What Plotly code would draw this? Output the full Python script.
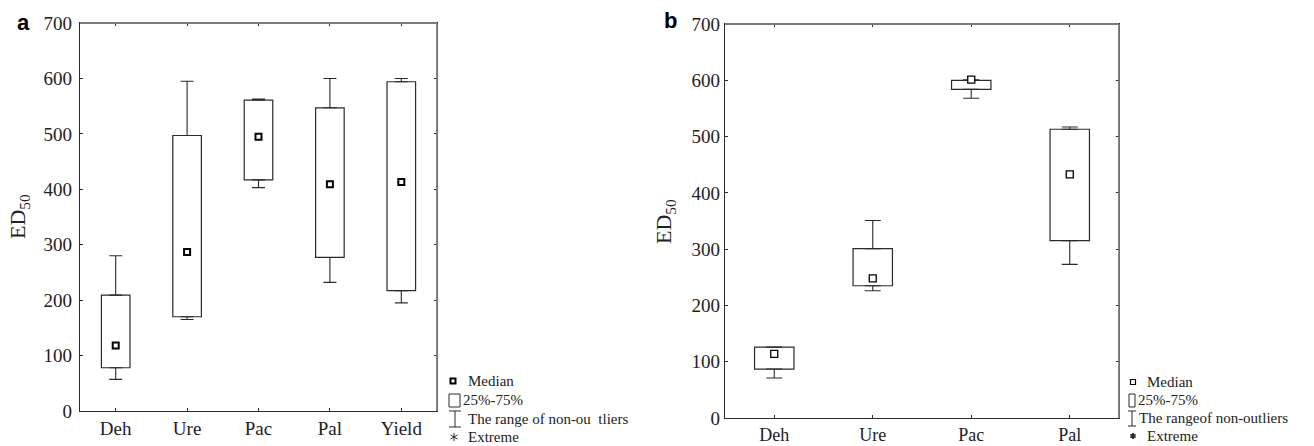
import plotly.graph_objects as go

W, H = 1314, 446

# ---- data (panel a) ----
cats_a = ["Deh", "Ure", "Pac", "Pal", "Yield"]
low_a = [57, 165, 403, 232, 195]
q1_a = [78, 170, 417, 277, 217]
med_a = [118, 287, 495, 409, 413]
q3_a = [209, 497, 561, 547, 594]
high_a = [280, 595, 563, 600, 600]

# ---- data (panel b) ----
cats_b = ["Deh", "Ure", "Pac", "Pal"]
low_b = [71, 226, 568, 273]
q1_b = [87, 235, 584, 315]
med_b = [114, 248, 601, 433]
q3_b = [126, 301, 600, 513]
high_b = [126, 351, 601, 517]

y_ticks = [0, 100, 200, 300, 400, 500, 600, 700]

SERIF = "Liberation Serif"
LINE = "#2a2a2a"


def px_x(p):
    return p / W


def px_y(p):
    return 1 - p / H


fig = go.Figure()


def add_panel(cats, low, q1, med, q3, high, xa, ya, capw, msym, msize, mlw):
    fig.add_trace(go.Bar(
        x=cats, base=q1, y=[b - a for a, b in zip(q1, q3)], width=0.4,
        marker=dict(color="white", line=dict(color=LINE, width=1.2)),
        xaxis=xa, yaxis=ya, showlegend=False, hoverinfo="skip"))
    fig.add_trace(go.Scatter(
        x=cats, y=q3, mode="markers", marker=dict(size=1, opacity=0),
        error_y=dict(type="data", symmetric=False,
                     array=[h - t for t, h in zip(q3, high)],
                     arrayminus=[0] * len(cats),
                     color=LINE, thickness=1.1, width=capw),
        xaxis=xa, yaxis=ya, showlegend=False, hoverinfo="skip"))
    fig.add_trace(go.Scatter(
        x=cats, y=q1, mode="markers", marker=dict(size=1, opacity=0),
        error_y=dict(type="data", symmetric=False,
                     array=[0] * len(cats),
                     arrayminus=[a - l for l, a in zip(low, q1)],
                     color=LINE, thickness=1.1, width=capw),
        xaxis=xa, yaxis=ya, showlegend=False, hoverinfo="skip"))
    fig.add_trace(go.Scatter(
        x=cats, y=med, mode="markers",
        marker=dict(symbol=msym, size=msize, color="white",
                    line=dict(color="black", width=mlw)),
        xaxis=xa, yaxis=ya, showlegend=False))


add_panel(cats_a, low_a, q1_a, med_a, q3_a, high_a, "x", "y", 6.5, "square", 6, 2)
add_panel(cats_b, low_b, q1_b, med_b, q3_b, high_b, "x2", "y2", 8, "square", 7, 1.3)

axis_common = dict(showline=True, linecolor=LINE, linewidth=1.2, mirror="ticks",
                   ticks="inside", ticklen=3, tickcolor=LINE, tickwidth=1,
                   showgrid=False, zeroline=False, automargin=False)
yfont = dict(family=SERIF, size=19, color="#222")
xfont = dict(family=SERIF, size=19, color="#222")

fig.update_layout(
    width=W, height=H, margin=dict(l=0, r=0, t=0, b=0, pad=0, autoexpand=False),
    paper_bgcolor="white", plot_bgcolor="white", showlegend=False,
    xaxis=dict(domain=[px_x(80), px_x(437)], anchor="y", type="category",
               range=[-0.5, 4.5], ticklabelstandoff=0, tickfont=xfont, **axis_common),
    yaxis=dict(domain=[px_y(411), px_y(23)], anchor="x", range=[0, 700],
               tickvals=y_ticks, ticklabelstandoff=3, tickfont=yfont, **axis_common),
    xaxis2=dict(domain=[px_x(725), px_x(1119)], anchor="y2", type="category",
                range=[-0.5, 3.5], ticklabelstandoff=0, tickfont=dict(xfont, size=18),
                **axis_common),
    yaxis2=dict(domain=[px_y(418), px_y(24)], anchor="x2", range=[0, 700],
                tickvals=y_ticks, ticklabelstandoff=0, tickfont=yfont, **axis_common),
)

ann = []
# panel letters
ann.append(dict(text="<b>a</b>", x=px_x(23), y=px_y(22), xref="paper", yref="paper",
                xanchor="center", yanchor="middle",
                showarrow=False, font=dict(family="Liberation Sans", size=22, color="black")))
ann.append(dict(text="<b>b</b>", x=px_x(670), y=px_y(20), xref="paper", yref="paper",
                xanchor="center", yanchor="middle",
                showarrow=False, font=dict(family="Liberation Sans", size=22, color="black")))
# y titles
ann.append(dict(text="ED<sub>50</sub>", x=px_x(19), y=px_y(217), xref="paper", yref="paper",
                xanchor="center", yanchor="middle",
                showarrow=False, textangle=-90, font=dict(family=SERIF, size=22, color="#222")))
ann.append(dict(text="ED<sub>50</sub>", x=px_x(665), y=px_y(222), xref="paper", yref="paper",
                xanchor="center", yanchor="middle",
                showarrow=False, textangle=-90, font=dict(family=SERIF, size=22, color="#222")))

LEG_FONT = dict(family=SERIF, size=15, color="#222")


def leg_text(t, x, y):
    ann.append(dict(text=t, x=px_x(x), y=px_y(y), xref="paper", yref="paper",
                    xanchor="left", yanchor="middle", showarrow=False, font=LEG_FONT))


# legend a
leg_text("Median", 466, 381)
leg_text("25%-75%", 461, 400)
leg_text("The range of non-ou\u00a0\u00a0tliers", 466, 419)
leg_text("Extreme", 466, 437)
# legend b
leg_text("Median", 1145, 382)
leg_text("25%-75%", 1136, 400)
leg_text("The rangeof non-outliers", 1137, 418)
leg_text("Extreme", 1145, 436)

shapes = []

# lighter top/right frame lines, as in the reference
for xd, yd in (("x domain", "y domain"), ("x2 domain", "y2 domain")):
    shapes.append(dict(type="line", xref=xd, yref=yd, x0=0, x1=1, y0=1, y1=1,
                       line=dict(color="#7a7a7a", width=1.8)))
    shapes.append(dict(type="line", xref=xd, yref=yd, x0=1, x1=1, y0=0, y1=1,
                       line=dict(color="#7a7a7a", width=1.8)))


def asterisk(cx, cy, r, width):
    # six-spoke asterisk glyph for the legend
    pts = [(0, -r), (0, r), (-0.87 * r, -0.5 * r), (0.87 * r, 0.5 * r),
           (-0.87 * r, 0.5 * r), (0.87 * r, -0.5 * r)]
    path = ""
    for i in range(0, 6, 2):
        (x0, y0), (x1, y1) = pts[i], pts[i + 1]
        path += f"M {px_x(cx + x0)} {px_y(cy + y0)} L {px_x(cx + x1)} {px_y(cy + y1)} "
    shapes.append(dict(type="path", xref="paper", yref="paper", path=path,
                       line=dict(color=LINE, width=width)))


# legend a glyphs
shapes.append(dict(type="rect", xref="paper", yref="paper",
                   x0=px_x(450.5), x1=px_x(455.5), y0=px_y(383.5), y1=px_y(378.5),
                   line=dict(color="black", width=2), fillcolor="white"))
shapes.append(dict(type="rect", xref="paper", yref="paper",
                   x0=px_x(449), x1=px_x(460), y0=px_y(407), y1=px_y(394),
                   line=dict(color=LINE, width=1), fillcolor="white"))
shapes.append(dict(type="path", xref="paper", yref="paper",
                   path=f"M {px_x(449)} {px_y(411)} L {px_x(461)} {px_y(411)} "
                        f"M {px_x(455)} {px_y(411)} L {px_x(455)} {px_y(427)} "
                        f"M {px_x(449)} {px_y(427)} L {px_x(461)} {px_y(427)}",
                   line=dict(color=LINE, width=1)))
asterisk(454, 437, 4, 1)
# legend b glyphs
shapes.append(dict(type="rect", xref="paper", yref="paper",
                   x0=px_x(1130.5), x1=px_x(1135.5), y0=px_y(384.5), y1=px_y(379.5),
                   line=dict(color="black", width=1.2), fillcolor="white"))
shapes.append(dict(type="rect", xref="paper", yref="paper",
                   x0=px_x(1129), x1=px_x(1135), y0=px_y(407), y1=px_y(394),
                   line=dict(color=LINE, width=1), fillcolor="white"))
shapes.append(dict(type="path", xref="paper", yref="paper",
                   path=f"M {px_x(1128)} {px_y(411)} L {px_x(1136)} {px_y(411)} "
                        f"M {px_x(1132)} {px_y(411)} L {px_x(1132)} {px_y(426)} "
                        f"M {px_x(1128)} {px_y(426)} L {px_x(1136)} {px_y(426)}",
                   line=dict(color=LINE, width=1)))
asterisk(1133, 436, 3, 1.8)

fig.update_layout(annotations=ann, shapes=shapes)

fig.write_html("out.html")
